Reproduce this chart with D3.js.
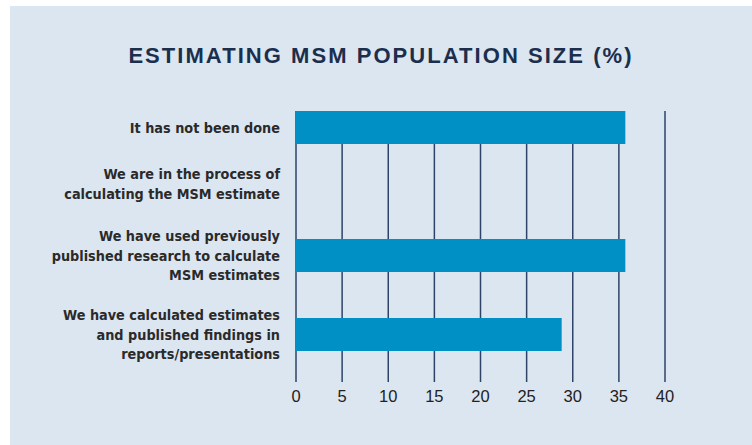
<!DOCTYPE html>
<html>
<head>
<meta charset="utf-8">
<script src="https://cdn.jsdelivr.net/npm/d3@7"></script>
<style>
  body { margin: 0; background: #fff; }
  svg { display: block; }
</style>
</head>
<body>
<svg width="752" height="445"></svg>
<script>
var categories = [
  ["It has not been done"],
  ["We are in the process of", "calculating the MSM estimate"],
  ["We have used previously", "published research to calculate", "MSM estimates"],
  ["We have calculated estimates", "and published findings in", "reports/presentations"]
];
var values = [35.7, 0, 35.7, 28.8];
var ticks = [0, 5, 10, 15, 20, 25, 30, 35, 40];

var svg = d3.select("svg"),
    width = +svg.attr("width"),
    height = +svg.attr("height");

svg.append("rect")
    .attr("x", 10).attr("y", 6)
    .attr("width", width - 10).attr("height", height - 6)
    .attr("fill", "#dce6f1");

svg.append("text")
    .attr("x", 381).attr("y", 63)
    .attr("text-anchor", "middle")
    .attr("font-family", "'Liberation Sans', Arial, sans-serif")
    .attr("font-weight", "bold")
    .attr("font-size", 22)
    .attr("letter-spacing", 2.05)
    .attr("fill", "#1b2f4d")
    .text("ESTIMATING MSM POPULATION SIZE (%)");

var x = d3.scaleLinear().domain([0, 40]).range([296, 665]);

// rows are not evenly spaced in the original
var y = d3.scaleOrdinal()
    .domain(d3.range(categories.length))
    .range([127.5, 184, 255.5, 334.5]);
var barH = 33;

var g = svg.append("g");

g.selectAll(".grid")
  .data(ticks)
  .enter().append("line")
    .attr("x1", function(d) { return x(d); })
    .attr("x2", function(d) { return x(d); })
    .attr("y1", 111).attr("y2", 382)
    .attr("stroke", "#2e4466")
    .attr("stroke-width", 1.5);

g.selectAll(".bar")
  .data(values)
  .enter().append("rect")
    .attr("x", x(0))
    .attr("y", function(d, i) { return y(i) - barH / 2; })
    .attr("width", function(d) { return x(d) - x(0); })
    .attr("height", barH)
    .attr("fill", "#0090c6");

g.selectAll(".tick")
  .data(ticks)
  .enter().append("text")
    .attr("x", function(d) { return x(d); })
    .attr("y", 402)
    .attr("text-anchor", "middle")
    .attr("font-family", "'Liberation Sans', Arial, sans-serif")
    .attr("font-size", 16.5)
    .attr("fill", "#222")
    .text(function(d) { return d; });

var lineH = 19.5;
var lab = g.selectAll(".lab")
  .data(categories)
  .enter().append("text")
    .attr("text-anchor", "end")
    .attr("font-family", "'Liberation Sans Narrow', 'DejaVu Sans Condensed', sans-serif")
    .attr("font-weight", "bold")
    .attr("font-size", 14.3)
    .attr("fill", "#2a2a2a");

lab.each(function(lines, i) {
  var t = d3.select(this);
  var top = y(i) - (lines.length - 1) * lineH / 2;
  lines.forEach(function(s, k) {
    t.append("tspan")
      .attr("x", 280)
      .attr("y", top + k * lineH)
      .attr("dy", "0.35em")
      .text(s);
  });
});
</script>
</body>
</html>
